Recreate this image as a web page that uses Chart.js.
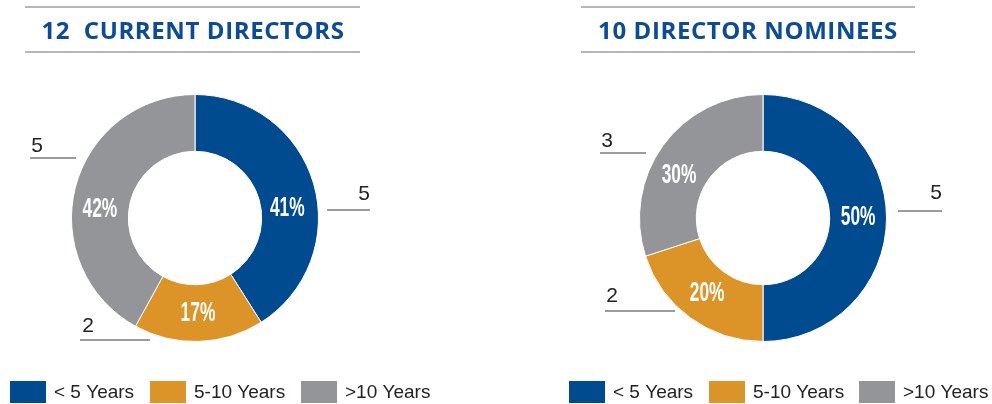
<!DOCTYPE html>
<html><head><meta charset="utf-8">
<script src="https://cdn.jsdelivr.net/npm/chart.js@4.4.1/dist/chart.umd.min.js"></script>
<style>
html,body{margin:0;padding:0;background:#fff;width:992px;height:404px;overflow:hidden;}
#c1,#c2{position:absolute;top:0;}
#c1{left:0;} #c2{left:496px;}
</style></head>
<body>
<canvas id="c1" width="496" height="404"></canvas>
<canvas id="c2" width="496" height="404"></canvas>
<script>
const categories = ["< 5 Years", "5-10 Years", ">10 Years"];
const currentTitle = "12  CURRENT DIRECTORS";
const currentPercents = [41, 17, 42];
const currentCounts = [5, 2, 5];
const nomineeTitle = "10 DIRECTOR NOMINEES";
const nomineePercents = [50, 20, 30];
const nomineeCounts = [5, 2, 3];

const colors = ["#004b8f", "#dc9428", "#939598"];
const TITLE_BLUE = "#0d4c94";

// layout (annotation placement) per chart
const layouts = [
  { padding:{left:71,right:177,top:94,bottom:62}, titleX:193, lineX:[25,360],
    labelNudge:[[1,16],[0,-1],[-3,14]],
    counts:[ {x:364,y:200,lx:[327,370],ly:210}, {x:88,y:332,lx:[80,150],ly:340}, {x:37,y:152,lx:[30,76],ly:158} ],
    legendX:[10,150,301] },
  { padding:{left:143,right:105,top:94,bottom:62}, titleX:252, lineX:[85,419],
    labelNudge:[[0,-2],[0,-3],[-7,12]],
    counts:[ {x:440,y:199,lx:[402,446],ly:211}, {x:116,y:302,lx:[109,179],ly:311}, {x:111,y:147,lx:[104,150],ly:153} ],
    legendX:[73,213,363] }
];

function makeChart(id, title, percents, counts, L){
  const overlay = {
    id:'overlay',
    afterDraw(chart){
      const ctx = chart.ctx;
      ctx.save();
      // title + rules
      ctx.strokeStyle = "#a0a0a0"; ctx.lineWidth = 1.5;
      ctx.beginPath();
      ctx.moveTo(L.lineX[0],7); ctx.lineTo(L.lineX[1],7);
      ctx.moveTo(L.lineX[0],52); ctx.lineTo(L.lineX[1],52);
      ctx.stroke();
      ctx.fillStyle = TITLE_BLUE;
      ctx.font = "bold 24px 'Open Sans'";
      ctx.textAlign = "center"; ctx.textBaseline = "alphabetic";
      ctx.letterSpacing = "0.6px";
      ctx.fillText(title, L.titleX, 39);
      ctx.letterSpacing = "0px";
      // percentage labels
      const meta = chart.getDatasetMeta(0);
      meta.data.forEach((arc,i)=>{
        const p = arc.getProps(['x','y','startAngle','endAngle','innerRadius','outerRadius'], true);
        const a = (p.startAngle+p.endAngle)/2;
        const r = (p.innerRadius+p.outerRadius)/2;
        const x = p.x + Math.cos(a)*r + L.labelNudge[i][0], y = p.y + Math.sin(a)*r + L.labelNudge[i][1];
        ctx.save();
        ctx.translate(x,y);
        ctx.scale(0.62,1);
        ctx.fillStyle = "#fff";
        ctx.font = "bold 28px 'Liberation Sans'";
        ctx.textAlign = "center"; ctx.textBaseline = "middle";
        ctx.fillText(percents[i]+"%",0,1);
        ctx.restore();
      });
      // count labels + leader lines
      ctx.strokeStyle = "#7a7a7a"; ctx.lineWidth = 1.5;
      L.counts.forEach((c,i)=>{
        ctx.beginPath(); ctx.moveTo(c.lx[0],c.ly); ctx.lineTo(c.lx[1],c.ly); ctx.stroke();
        ctx.fillStyle = "#222";
        ctx.font = "21px 'Liberation Sans'";
        ctx.textAlign = "center"; ctx.textBaseline = "alphabetic";
        ctx.fillText(String(counts[i]), c.x, c.y);
      });
      // legend
      categories.forEach((cat,i)=>{
        const x = L.legendX[i];
        ctx.fillStyle = colors[i];
        ctx.fillRect(x,381,36,22);
        ctx.fillStyle = "#222";
        ctx.font = "19px 'Liberation Sans'";
        ctx.textAlign = "left"; ctx.textBaseline = "alphabetic";
        ctx.fillText(cat, x+44, 398);
      });
      ctx.restore();
    }
  };
  return new Chart(document.getElementById(id), {
    type:'doughnut',
    data:{ labels:categories, datasets:[{ data:percents, backgroundColor:colors, borderColor:"#ffffff", borderWidth:1 }]},
    options:{
      responsive:false, animation:false, cutout:"54%",
      layout:{padding:L.padding},
      plugins:{legend:{display:false}, tooltip:{enabled:false}}
    },
    plugins:[overlay]
  });
}
makeChart('c1', currentTitle, currentPercents, currentCounts, layouts[0]);
makeChart('c2', nomineeTitle, nomineePercents, nomineeCounts, layouts[1]);
</script>
</body></html>
